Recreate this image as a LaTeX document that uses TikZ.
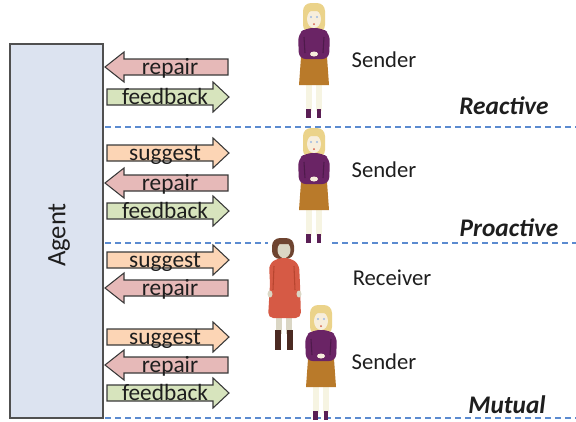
\documentclass[tikz,border=0pt]{standalone}
\usepackage{fontspec}
\setmainfont{Carlito}
\usetikzlibrary{positioning}

\definecolor{agentfill}{HTML}{DCE3F0}
\definecolor{agentline}{HTML}{505050}
\definecolor{repairfill}{HTML}{E6B9B8}
\definecolor{feedbackfill}{HTML}{D7E4BD}
\definecolor{suggestfill}{HTML}{FCD5B5}
\definecolor{arrowline}{HTML}{3A3A3A}
\definecolor{textdark}{HTML}{1E1E1E}
\definecolor{sepblue}{HTML}{5B8BD0}
\definecolor{blonde}{HTML}{EBD38A}
\definecolor{skin}{HTML}{F7EEDC}
\definecolor{legs}{HTML}{F6F4E2}
\definecolor{jumper}{HTML}{6A2465}
\definecolor{jumperdark}{HTML}{4E1A4B}
\definecolor{skirt}{HTML}{B97A2A}
\definecolor{boots}{HTML}{5A1F55}
\definecolor{brownhair}{HTML}{6E4430}
\definecolor{greyskin}{HTML}{DAD6C4}
\definecolor{dress}{HTML}{D65A45}
\definecolor{dressdark}{HTML}{B8452F}
\definecolor{darkboots}{HTML}{4B2A22}

% arrow pointing at the person (suggest, feedback)
\newcommand{\drawRightArrow}[4]{
    \draw[#3,blockarrow] (107,#2-8) -- (213,#2-8) -- (213,#2-15) -- (229,#2)
        -- (213,#2+15) -- (213,#2+8) -- (107,#2+8) -- cycle;
    \node[arrowlabel] (#1) at (165,#2+7) {#4};
}
% arrow pointing at the agent (repair)
\newcommand{\drawLeftArrow}[4]{
    \draw[#3,blockarrow] (228,#2-8) -- (124,#2-8) -- (124,#2-15) -- (105,#2)
        -- (124,#2+15) -- (124,#2+8) -- (228,#2+8) -- cycle;
    \node[arrowlabel] (#1) at (170,#2+7) {#4};
}

\newcommand{\drawSender}[1]{
    \begin{scope}[shift={(#1)}]
        % hair and face
        \fill[blonde,rounded corners=6pt] (-11,0) rectangle (11,30);
        \fill[skin] (0,16) ellipse (7 and 9);
        \fill[blonde,rounded corners=3pt] (-9,1) rectangle (9,8);
        \fill[sepblue!60] (-3,14) circle (1.2);
        \fill[sepblue!60] (3,14) circle (1.2);
        \fill[dress] (0,21) circle (1);
        % legs and boots
        \fill[legs] (-8,80) rectangle (-2,108);
        \fill[legs] (2,80) rectangle (8,108);
        \fill[boots] (-8,106) rectangle (-3,115);
        \fill[boots] (3,106) rectangle (7,115);
        % skirt
        \fill[skirt] (-13,54) -- (13,54) -- (15,82) -- (-15,82) -- cycle;
        % jumper, arms folded in front
        \fill[jumper,rounded corners=5pt] (-15,56) -- (-16,31) -- (-8,25)
            -- (8,25) -- (16,31) -- (15,56) -- cycle;
        \draw[jumperdark,line width=0.8pt] (-10,34) -- (-9,50);
        \draw[jumperdark,line width=0.8pt] (10,34) -- (9,50);
        \fill[skin] (0,51) ellipse (4 and 2.5);
    \end{scope}
}

\newcommand{\drawReceiver}[1]{
    \begin{scope}[shift={(#1)}]
        % hair and face
        \fill[brownhair,rounded corners=6pt] (-12,0) rectangle (10,21);
        \fill[greyskin] (0,12) ellipse (6.5 and 8);
        \fill[brownhair,rounded corners=3pt] (-9,1) rectangle (8,6);
        \fill[greyskin] (-2,17) rectangle (2,23);
        % legs and boots
        \fill[greyskin] (-8,78) rectangle (-2,96);
        \fill[greyskin] (2,78) rectangle (8,96);
        \fill[darkboots] (-9,92) rectangle (-3,112);
        \fill[darkboots] (3,92) rectangle (9,112);
        % dress, arms hanging down
        \fill[dress,rounded corners=4pt] (-16,80) -- (-14,46) -- (-15,26) -- (-6,20)
            -- (6,20) -- (15,26) -- (16,46) -- (17,80) -- cycle;
        \draw[dressdark,line width=0.8pt] (-10,28) -- (-11,52);
        \draw[dressdark,line width=0.8pt] (10,28) -- (11,52);
        \fill[greyskin] (-14,56) ellipse (2.5 and 3.5);
        \fill[greyskin] (15,56) ellipse (2.5 and 3.5);
    \end{scope}
}

\tikzset{
    blockarrow/.style={draw=arrowline,line width=0.8pt,line join=miter},
    arrowlabel/.style={anchor=base,inner sep=0pt,text=textdark,font=\fontsize{17.5}{20}\selectfont},
    rolelabel/.style={anchor=base,inner sep=0pt,text=textdark,font=\fontsize{17}{20}\selectfont},
    modelabel/.style={anchor=base,inner sep=0pt,text=textdark,font=\fontsize{19}{22}\selectfont\bfseries\itshape},
    sepline/.style={sepblue,line width=0.8pt,dash pattern=on 4.5pt off 3pt},
    agentbox/.style={fill=agentfill,draw=agentline,line width=1.2pt},
}

\begin{document}
\begin{tikzpicture}[x=0.75pt,y=-0.75pt]
    \useasboundingbox (0,0) rectangle (576,422);

    % --- Agent ---
    \draw[agentbox] (10,44) rectangle (103,418);
    \node[rotate=90,text=textdark,font=\fontsize{20}{24}\selectfont] (agent) at (59,235) {Agent};

    % --- separators between the three modes ---
    \draw[sepline] (105,127) -- (576,127);
    \draw[sepline] (105,243) -- (268,243);
    \draw[sepline] (332,243) -- (576,243);
    \draw[sepline] (105,418) -- (576,418);

    % --- Reactive ---
    \drawLeftArrow{repairA}{67}{fill=repairfill}{repair}
    \drawRightArrow{feedbackA}{97}{fill=feedbackfill}{feedback}
    \drawSender{314,3}
    \node[rolelabel] (senderA) at (384,67) {Sender};
    \node[modelabel] (reactive) at (504,114) {Reactive};

    % --- Proactive ---
    \drawRightArrow{suggestB}{153}{fill=suggestfill}{suggest}
    \drawLeftArrow{repairB}{183}{fill=repairfill}{repair}
    \drawRightArrow{feedbackB}{211}{fill=feedbackfill}{feedback}
    \drawSender{314,128}
    \node[rolelabel] (senderB) at (384,177) {Sender};
    \node[modelabel] (proactive) at (509,236) {Proactive};

    % --- Mutual ---
    \drawRightArrow{suggestC}{260}{fill=suggestfill}{suggest}
    \drawLeftArrow{repairC}{288}{fill=repairfill}{repair}
    \drawRightArrow{suggestD}{337}{fill=suggestfill}{suggest}
    \drawLeftArrow{repairD}{365}{fill=repairfill}{repair}
    \drawRightArrow{feedbackD}{393}{fill=feedbackfill}{feedback}
    \drawReceiver{284,238}
    \drawSender{321,305}
    \node[rolelabel] (receiver) at (392,285) {Receiver};
    \node[rolelabel] (senderC) at (384,369) {Sender};
    \node[modelabel] (mutual) at (507,413) {Mutual};
\end{tikzpicture}
\end{document}
